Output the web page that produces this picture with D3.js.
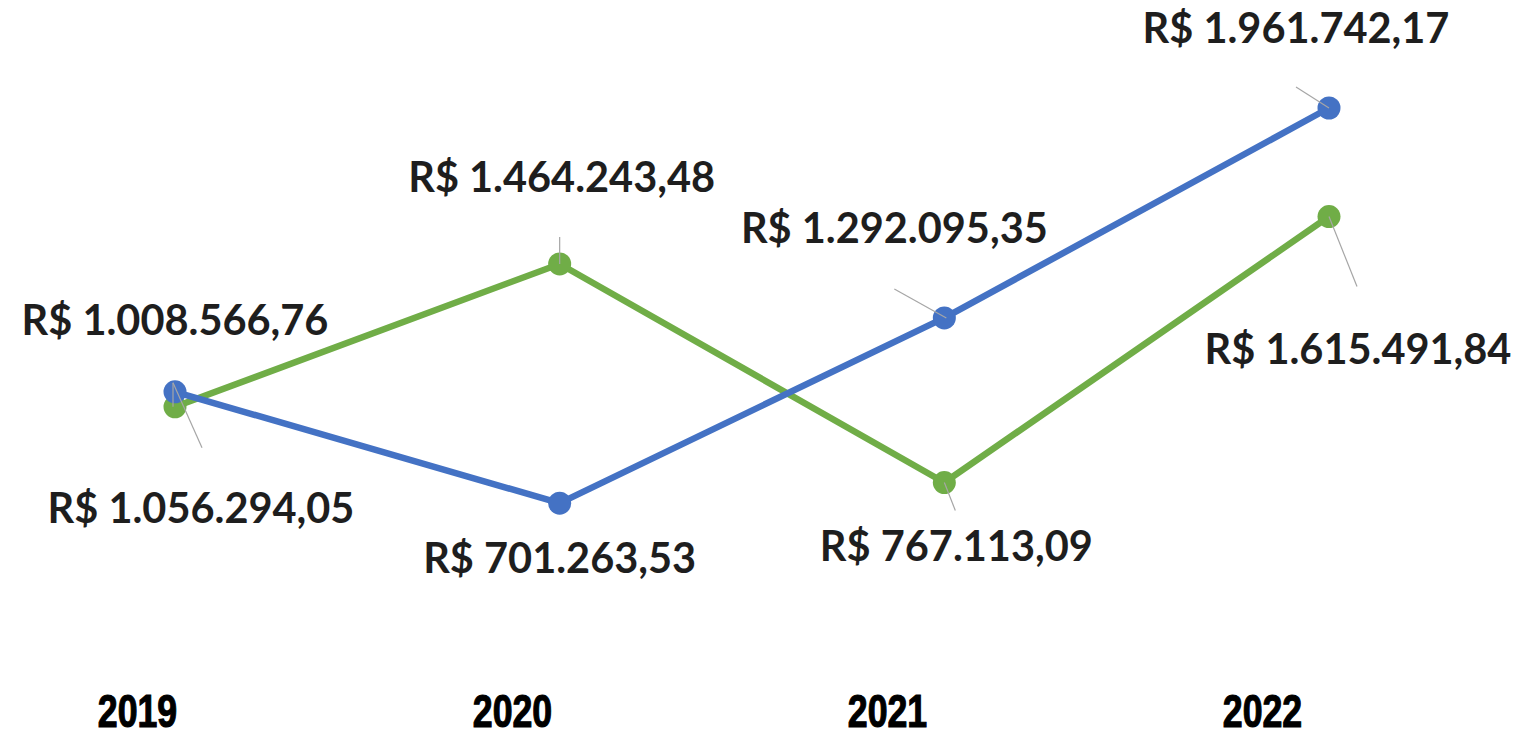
<!DOCTYPE html>
<html>
<head>
<meta charset="utf-8">
<script src="https://cdn.jsdelivr.net/npm/d3@7"></script>
<style>
  html, body { margin: 0; padding: 0; background: #fff; }
  svg { display: block; }
</style>
</head>
<body>
<svg id="chart" width="1521" height="736"></svg>
<script>
// ---- data ----
const years = ["2019", "2020", "2021", "2022"];
const blueValues = [1056294.05, 701263.53, 1292095.35, 1961742.17];
const greenValues = [1008566.76, 1464243.48, 767113.09, 1615491.84];
const blueLabels = ["R$ 1.056.294,05", "R$ 701.263,53", "R$ 1.292.095,35", "R$ 1.961.742,17"];
const greenLabels = ["R$ 1.008.566,76", "R$ 1.464.243,48", "R$ 767.113,09", "R$ 1.615.491,84"];

// ---- layout ----
const svg = d3.select("#chart");

const x = d3.scalePoint().domain(years).range([175, 1329]);
const y = d3.scaleLinear().domain([0, 2000000]).range([723, 96]);
// category labels sit slightly left of the points
const xLab = d3.scalePoint().domain(years).range([137, 1262]);

const BLUE = "#4472C4", GREEN = "#70AD47";

// label placement offsets (pixels relative to point), baseline positions
const blueLabelOff = [[26, 131], [0, 70], [-50, -75], [-33, -65]];
const greenLabelOff = [[0, -72], [2, -72], [12, 78], [29, 147]];
// leader lines: [x1,y1,x2,y2] offsets relative to point
const blueLeader = [[-2, -9, 27, 56], null, [-50, -29, 2, 0], [-33, -21, 0, 0]];
const greenLeader = [[-2, -24, -2, 0], [0, -27, 0, 0], [0, 0, 11, 28], [0, 0, 28, 70]];

const line = d3.line().x(d => x(d.year)).y(d => y(d.value));

function series(values) {
  return years.map((yr, i) => ({ year: yr, value: values[i], i }));
}
const green = series(greenValues);
const blue = series(blueValues);

function drawSeries(data, color) {
  svg.append("path")
    .datum(data)
    .attr("d", line)
    .attr("fill", "none")
    .attr("stroke", color)
    .attr("stroke-width", 6.5)
    .attr("stroke-linejoin", "round");
  svg.append("g").selectAll("circle")
    .data(data).join("circle")
    .attr("cx", d => x(d.year))
    .attr("cy", d => y(d.value))
    .attr("r", 11.5)
    .attr("fill", color);
}
drawSeries(green, GREEN);
drawSeries(blue, BLUE);

function drawLeaders(data, leaders) {
  svg.append("g").selectAll("line")
    .data(data.filter(d => leaders[d.i])).join("line")
    .attr("x1", d => x(d.year) + leaders[d.i][0])
    .attr("y1", d => y(d.value) + leaders[d.i][1])
    .attr("x2", d => x(d.year) + leaders[d.i][2])
    .attr("y2", d => y(d.value) + leaders[d.i][3])
    .attr("stroke", "#a6a6a6")
    .attr("stroke-width", 1.2);
}
drawLeaders(green, greenLeader);
drawLeaders(blue, blueLeader);

function drawLabels(data, labels, offs) {
  svg.append("g").selectAll("text")
    .data(data).join("text")
    .attr("x", d => x(d.year) + offs[d.i][0])
    .attr("y", d => y(d.value) + offs[d.i][1])
    .attr("text-anchor", "middle")
    .attr("font-family", "Lato, 'Open Sans', sans-serif")
    .attr("font-weight", 700)
    .attr("font-size", 41.5)
    .attr("fill", "#1e1e1e")
    .text(d => labels[d.i]);
}
drawLabels(green, greenLabels, greenLabelOff);
drawLabels(blue, blueLabels, blueLabelOff);

// category axis (no line, no ticks)
const xAxis = d3.axisBottom(xLab).tickSize(0).tickPadding(0);
const ax = svg.append("g").attr("transform", "translate(0,692)").call(xAxis);
ax.select(".domain").remove();
ax.selectAll("text")
  .attr("dy", 0)
  .attr("y", 35)
  .attr("transform", "scale(0.76,1)")
  .attr("font-family", "'Liberation Sans', Arial, sans-serif")
  .attr("font-weight", 700)
  .attr("font-size", 47)
  .attr("fill", "#000")
  .attr("stroke", "#000")
  .attr("stroke-width", 1.2);
</script>
</body>
</html>
